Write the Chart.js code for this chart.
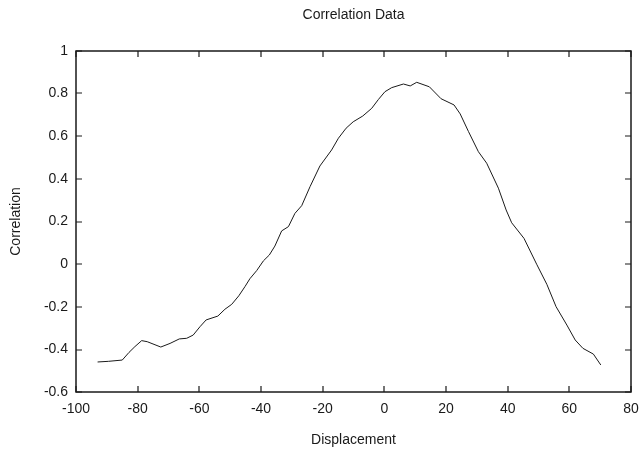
<!DOCTYPE html>
<html>
<head>
<meta charset="utf-8">
<title>Correlation Data</title>
<script src="https://cdn.jsdelivr.net/npm/chart.js@4/dist/chart.umd.min.js"></script>
<style>
  html, body { margin: 0; padding: 0; background: #ffffff; }
  #wrap { width: 642px; height: 455px; }
</style>
</head>
<body>
<div id="wrap"><canvas id="corrChart" width="642" height="455"></canvas></div>
<script>
// values
const displacement = [
  -93.0, -89.5, -85.0, -82.8, -80.9, -78.7, -76.9, -72.5, -69.5, -66.5,
  -64.1, -62.0, -59.8, -57.8, -54.0, -51.7, -49.5, -47.2, -45.2, -43.6,
  -41.4, -39.2, -37.3, -35.5, -33.3, -31.1, -29.0, -26.8, -24.1, -20.9,
  -17.1, -14.9, -12.4, -10.1, -7.0, -4.1, -1.9, 0.2, 2.4, 6.2,
  8.4, 10.5, 14.6, 18.4, 22.6, 24.6, 27.3, 30.5, 33.2, 37.0,
  39.5, 41.3, 45.3, 49.4, 52.7, 55.7, 59.2, 61.9, 64.4, 67.8, 70.2
];
const correlation = [
  -0.458, -0.455, -0.449, -0.413, -0.386, -0.358, -0.363, -0.388, -0.371, -0.350,
  -0.347, -0.332, -0.293, -0.261, -0.243, -0.211, -0.188, -0.148, -0.105, -0.068,
  -0.030, 0.016, 0.043, 0.085, 0.156, 0.176, 0.238, 0.274, 0.363, 0.460,
  0.535, 0.590, 0.637, 0.667, 0.694, 0.730, 0.772, 0.808, 0.827, 0.844,
  0.835, 0.852, 0.831, 0.775, 0.746, 0.704, 0.621, 0.527, 0.473, 0.356,
  0.254, 0.194, 0.121, 0.0, -0.094, -0.199, -0.285, -0.355, -0.394, -0.421, -0.472
];
const xTicks = [-100, -80, -60, -40, -20, 0, 20, 40, 60, 80];
const yTicks = [-0.6, -0.4, -0.2, 0, 0.2, 0.4, 0.6, 0.8, 1];

const inkColor = "#1a1a1a";
const fontFamily = "\"Liberation Sans\", Arial, Helvetica, sans-serif";
Chart.defaults.font.family = fontFamily;
Chart.defaults.font.size = 14;
Chart.defaults.color = inkColor;

// gnuplot style frame with inward ticks on all four sides
const framePlugin = {
  id: "frame",
  afterDraw(chart) {
    const { ctx, chartArea: area, scales } = chart;
    const tickLen = 6;
    const left = Math.round(area.left);
    const right = Math.round(area.right);
    const top = Math.round(area.top);
    const bottom = Math.round(area.bottom);
    ctx.save();
    ctx.strokeStyle = inkColor;
    ctx.lineWidth = 1.5;
    ctx.strokeRect(left, top, right - left, bottom - top);
    ctx.lineWidth = 1.2;
    ctx.beginPath();
    xTicks.forEach((v) => {
      const px = Math.round(scales.x.getPixelForValue(v));
      ctx.moveTo(px, bottom); ctx.lineTo(px, bottom - tickLen);
      ctx.moveTo(px, top); ctx.lineTo(px, top + tickLen);
    });
    yTicks.forEach((v) => {
      const py = Math.round(scales.y.getPixelForValue(v));
      ctx.moveTo(left, py); ctx.lineTo(left + tickLen, py);
      ctx.moveTo(right, py); ctx.lineTo(right - tickLen, py);
    });
    ctx.stroke();
    ctx.restore();
  }
};

new Chart(document.getElementById("corrChart"), {
  type: "scatter",
  data: {
    datasets: [{
      label: "Correlation",
      data: displacement.map((x, i) => ({ x: x, y: correlation[i] })),
      showLine: true,
      borderColor: inkColor,
      borderWidth: 1,
      pointRadius: 0,
      pointHoverRadius: 0,
      tension: 0,
      fill: false
    }]
  },
  options: {
    responsive: false,
    animation: false,
    events: [],
    layout: { padding: 0 },
    plugins: {
      legend: { display: false },
      tooltip: { enabled: false },
      title: { display: false }
    },
    scales: {
      x: {
        type: "linear",
        position: "bottom",
        min: -100,
        max: 80,
        afterBuildTicks(scale) {
          scale.ticks = xTicks.map((v) => ({ value: v }));
        },
        grid: { display: false, drawTicks: false },
        border: { display: false },
        ticks: { padding: 8, color: inkColor, maxRotation: 0, autoSkip: false },
        title: {
          display: true,
          text: "Displacement",
          color: inkColor,
          padding: { top: 0, bottom: 6 }
        },
        afterFit(scale) {
          scale.height = 62.7;
          scale.paddingLeft = 0;
          scale.paddingRight = 11;
        }
      },
      xTop: {
        type: "linear",
        position: "top",
        min: -100,
        max: 80,
        grid: { display: false, drawTicks: false },
        border: { display: false },
        ticks: { display: false },
        title: {
          display: true,
          text: "Correlation Data",
          color: inkColor,
          padding: { top: 7, bottom: 0 }
        },
        afterFit(scale) {
          scale.height = 50.7;
          scale.paddingLeft = 0;
          scale.paddingRight = 11;
        }
      },
      y: {
        type: "linear",
        min: -0.6,
        max: 1,
        afterBuildTicks(scale) {
          scale.ticks = yTicks.map((v) => ({ value: v }));
        },
        grid: { display: false, drawTicks: false },
        border: { display: false },
        ticks: {
          padding: 8,
          color: inkColor,
          callback(value) {
            return String(Number(Number(value).toFixed(1)));
          }
        },
        title: {
          display: true,
          text: "Correlation",
          color: inkColor,
          padding: { top: 8, bottom: 0 }
        },
        afterFit(scale) { scale.width = 76; }
      }
    }
  },
  plugins: [framePlugin]
});
</script>
</body>
</html>
